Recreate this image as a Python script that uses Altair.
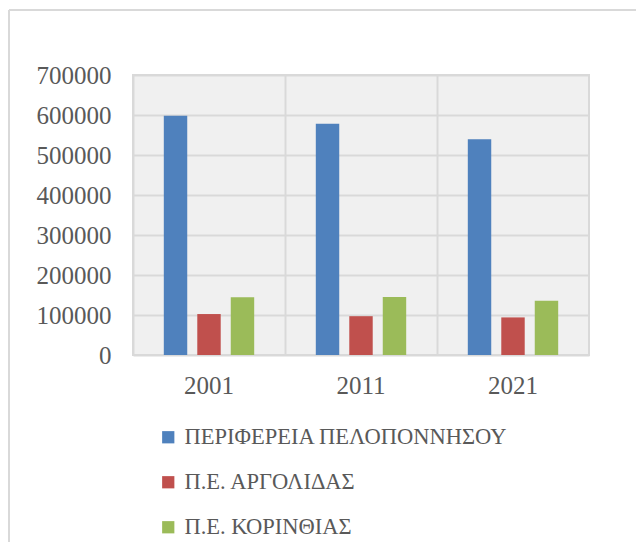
import altair as alt
import pandas as pd

years = ["2001", "2011", "2021"]
series = ["ΠΕΡΙΦΕΡΕΙΑ ΠΕΛΟΠΟΝΝΗΣΟΥ", "Π.Ε. ΑΡΓΟΛΙΔΑΣ", "Π.Ε. ΚΟΡΙΝΘΙΑΣ"]
peloponnisos = [597935, 577903, 539535]
argolida = [102392, 97044, 93981]
korinthia = [144527, 145082, 135883]
colors = ["#4F81BD", "#C0504D", "#9BBB59"]
y_ticks = [0, 100000, 200000, 300000, 400000, 500000, 600000, 700000]

rows = []
for s, vals in zip(series, [peloponnisos, argolida, korinthia]):
    for y, v in zip(years, vals):
        rows.append({"year": y, "series": s, "value": v})
df = pd.DataFrame(rows)

FONT = "Liberation Serif"
TXT = "#595959"
GRID = "#d9d9d9"

bars = alt.Chart(df).mark_bar().encode(
    x=alt.X("year:N", sort=years, title=None,
            scale=alt.Scale(paddingInner=0, paddingOuter=0),
            axis=alt.Axis(labelAngle=0, ticks=False, domain=False, grid=True,
                          bandPosition=0, gridColor=GRID, gridWidth=2,
                          labelPadding=18, labelFont=FONT, labelFontSize=25,
                          labelColor=TXT)),
    xOffset=alt.XOffset("series:N", sort=series,
                        scale=alt.Scale(paddingInner=0.3, paddingOuter=0.92)),
    y=alt.Y("value:Q", title=None,
            scale=alt.Scale(domain=[0, 700000], nice=False),
            axis=alt.Axis(values=y_ticks, format="d", ticks=False, domain=False,
                          gridColor=GRID, gridWidth=2, labelPadding=22,
                          labelFont=FONT, labelFontSize=25, labelColor=TXT)),
    color=alt.Color("series:N", sort=series,
                    scale=alt.Scale(domain=series, range=colors),
                    legend=alt.Legend(title=None, orient="none", legendX=24,
                                      legendY=351, direction="vertical",
                                      symbolType="square", symbolSize=150,
                                      symbolStrokeWidth=0, labelFont=FONT,
                                      labelFontSize=22.5, labelColor=TXT,
                                      rowPadding=22, labelOffset=5,
                                      labelLimit=600)),
)

frame = alt.Chart(pd.DataFrame({"a": [0]}))
top_line = frame.mark_rule(color=GRID, strokeWidth=2).encode(
    x=alt.value(-124), x2=alt.value(520), y=alt.value(-65))
left_line = frame.mark_rule(color=GRID, strokeWidth=2).encode(
    x=alt.value(-124), y=alt.value(-65), y2=alt.value(480))

chart = alt.layer(top_line, left_line, bars).properties(
    width=456, height=280,
    autosize=alt.AutoSizeParams(type="none"),
    padding={"left": 125, "top": 67, "right": 47, "bottom": 187},
).configure_view(fill="#f0f0f0", stroke=GRID, strokeWidth=2)

chart.save("out.html", embed_options={"renderer": "svg", "actions": False})
